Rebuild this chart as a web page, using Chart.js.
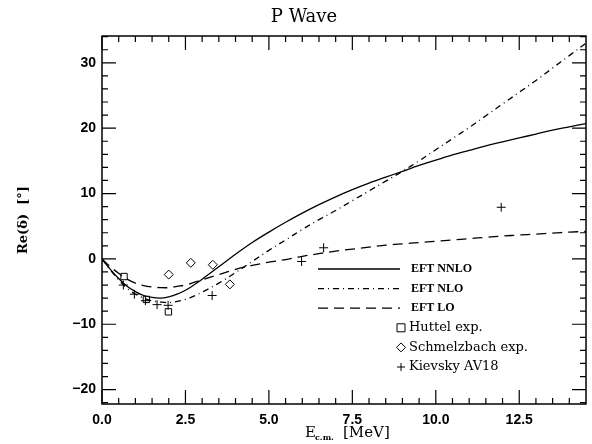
<!DOCTYPE html>
<html>
<head>
<meta charset="UTF-8">
<title>P Wave</title>
<script src="https://cdn.jsdelivr.net/npm/chart.js"></script>
<style>
  html, body { margin: 0; background: #fff; }
  #wrap { width: 592px; height: 444px; }
</style>
</head>
<body>
<div id="wrap"><canvas id="pwave"></canvas></div>
<script>
const curveE = [0, 0.25, 0.5, 0.75, 1, 1.25, 1.5, 1.75, 2, 2.25, 2.5, 2.75, 3, 3.5, 4, 4.5, 5, 5.5,
  6, 6.5, 7, 7.5, 8, 8.5, 9, 9.5, 10, 10.5, 11, 11.5, 12, 12.5, 13, 13.5, 14, 14.5];
const nnlo = [0, -1.6, -3.0, -4.2, -5.0, -5.6, -5.9, -6.0, -5.8, -5.4, -4.8, -4.0, -3.1, -1.2, 0.7, 2.5, 4.1, 5.6,
  7.0, 8.3, 9.5, 10.6, 11.6, 12.5, 13.4, 14.3, 15.1, 15.9, 16.6, 17.3, 17.9, 18.5, 19.1, 19.7, 20.2, 20.7];
const nlo = [0, -1.7, -3.2, -4.5, -5.4, -6.0, -6.4, -6.6, -6.7, -6.5, -6.2, -5.7, -5.1, -3.7, -2.1, -0.4, 1.3, 2.9,
  4.5, 6.0, 7.4, 8.9, 10.4, 11.9, 13.4, 15.0, 16.7, 18.4, 20.1, 21.9, 23.7, 25.5, 27.3, 29.2, 31.1, 33.0];
const lo = [0, -1.2, -2.2, -3.1, -3.7, -4.1, -4.3, -4.4, -4.4, -4.2, -4.0, -3.6, -3.2, -2.4, -1.6, -1.0, -0.5, -0.1,
  0.4, 0.8, 1.2, 1.5, 1.8, 2.1, 2.3, 2.5, 2.7, 2.9, 3.1, 3.3, 3.5, 3.65, 3.8, 3.95, 4.1, 4.2];

const huttelE = [0.66, 1.33, 1.99];
const huttelD = [-2.7, -6.2, -8.1];
const schmelzE = [2.0, 2.66, 3.32, 3.83];
const schmelzD = [-2.4, -0.6, -0.9, -3.9];
const kievskyE = [0.64, 0.97, 1.3, 1.65, 1.98, 3.3, 5.98, 6.64, 11.96];
const kievskyD = [-4.0, -5.4, -6.4, -7.0, -7.1, -5.6, -0.4, 1.7, 7.9];

// axes
const xMajor = [0, 2.5, 5, 7.5, 10, 12.5];
const xMinor = [0.5, 1, 1.5, 2, 3, 3.5, 4, 4.5, 5.5, 6, 6.5, 7, 8, 8.5, 9, 9.5, 10.5, 11, 11.5, 12, 13, 13.5, 14];
const yMajor = [-20, -10, 0, 10, 20, 30];
const yMinor = [-22, -18, -16, -14, -12, -8, -6, -4, -2, 2, 4, 6, 8, 12, 14, 16, 18, 22, 24, 26, 28, 32, 34];

const pts = (xs, ys) => xs.map((x, i) => ({ x: x, y: ys[i] }));

const legendRows = [
  { label: "EFT NNLO", kind: "line", dash: [] },
  { label: "EFT NLO", kind: "line", dash: [6, 4, 1, 4] },
  { label: "EFT LO", kind: "line", dash: [10, 6] },
  { label: "Huttel exp.", kind: "rect" },
  { label: "Schmelzbach exp.", kind: "rectRot" },
  { label: "Kievsky AV18", kind: "cross" }
];

function marker(ctx, kind, x, y) {
  ctx.beginPath();
  if (kind === "rect") {
    ctx.rect(x - 4, y - 4, 8, 8);
  } else if (kind === "rectRot") {
    ctx.moveTo(x, y - 4.5); ctx.lineTo(x + 4.5, y); ctx.lineTo(x, y + 4.5); ctx.lineTo(x - 4.5, y); ctx.closePath();
  } else {
    ctx.moveTo(x - 4, y); ctx.lineTo(x + 4, y); ctx.moveTo(x, y - 4); ctx.lineTo(x, y + 4);
  }
  ctx.stroke();
}

const framePlugin = {
  id: "frame",
  afterDraw(chart) {
    const ctx = chart.ctx;
    const { left, right, top, bottom } = chart.chartArea;
    const xs = chart.scales.x, ys = chart.scales.y;
    ctx.save();
    ctx.strokeStyle = "#000";
    ctx.lineWidth = 1.5;
    ctx.strokeRect(left, top, right - left, bottom - top);

    // inward ticks on every side
    ctx.lineWidth = 1.2;
    ctx.beginPath();
    const xt = (v, len) => {
      const p = xs.getPixelForValue(v);
      ctx.moveTo(p, bottom); ctx.lineTo(p, bottom - len);
      ctx.moveTo(p, top); ctx.lineTo(p, top + len);
    };
    const yt = (v, len) => {
      const p = ys.getPixelForValue(v);
      ctx.moveTo(left, p); ctx.lineTo(left + len, p);
      ctx.moveTo(right, p); ctx.lineTo(right - len, p);
    };
    xMajor.forEach(v => xt(v, 14));
    xMinor.forEach(v => xt(v, 6));
    yMajor.forEach(v => yt(v, 14));
    yMinor.forEach(v => yt(v, 6));
    ctx.stroke();

    // title
    ctx.fillStyle = "#000";
    ctx.textAlign = "center";
    ctx.textBaseline = "middle";
    ctx.font = "18px 'DejaVu Serif'";
    ctx.fillText("P Wave", 304, 17);

    // x axis title with subscript
    ctx.textAlign = "left";
    ctx.textBaseline = "alphabetic";
    ctx.font = "15px 'DejaVu Serif'";
    ctx.fillText("E", 305, 437);
    ctx.font = "bold 8px 'DejaVu Serif'";
    ctx.fillText("c.m.", 315, 440);
    ctx.font = "15px 'DejaVu Serif'";
    ctx.fillText("[MeV]", 343, 437);

    // y axis title
    ctx.save();
    ctx.translate(27, 220);
    ctx.rotate(-Math.PI / 2);
    ctx.textAlign = "center";
    ctx.font = "bold 13px 'DejaVu Serif'";
    ctx.fillText("Re(\u03B4)  [\u00B0]", 0, 0);
    ctx.restore();

    // legend
    legendRows.forEach((r, i) => {
      const y = 269 + i * 19.6;
      ctx.setLineDash(r.dash || []);
      ctx.lineWidth = r.kind === "line" ? 1.3 : 1;
      ctx.textBaseline = "middle";
      if (r.kind === "line") {
        ctx.beginPath(); ctx.moveTo(318, y); ctx.lineTo(400, y); ctx.stroke();
        ctx.setLineDash([]);
        ctx.font = "bold 12px 'Liberation Serif'";
        ctx.fillText(r.label, 411, y);
      } else {
        marker(ctx, r.kind, 401, y);
        ctx.font = "13px 'DejaVu Serif'";
        ctx.fillText(r.label, 409, y);
      }
    });
    ctx.restore();
  }
};

const lineDs = (data, dash) => ({
  data: data, showLine: true, borderColor: "#000", borderWidth: 1.3, borderDash: dash,
  pointRadius: 0, tension: 0.35, fill: false
});
const markDs = (data, style) => ({
  data: data, showLine: false, pointStyle: style, pointRadius: 4.5,
  borderColor: "#000", backgroundColor: "rgba(0,0,0,0)", pointBorderWidth: 1
});

new Chart(document.getElementById("pwave"), {
  type: "scatter",
  data: {
    datasets: [
      lineDs(pts(curveE, nnlo), []),
      lineDs(pts(curveE, nlo), [6, 4, 1, 4]),
      lineDs(pts(curveE, lo), [10, 6]),
      markDs(pts(huttelE, huttelD), "rect"),
      markDs(pts(schmelzE, schmelzD), "rectRot"),
      markDs(pts(kievskyE, kievskyD), "cross")
    ]
  },
  options: {
    responsive: true,
    maintainAspectRatio: false,
    animation: false,
    layout: { padding: { left: 0, right: 6, top: 36, bottom: 0 } },
    plugins: { legend: { display: false }, tooltip: { enabled: false }, title: { display: false } },
    scales: {
      x: {
        type: "linear", min: 0, max: 14.5,
        grid: { display: false, drawTicks: false }, border: { display: false },
        afterBuildTicks: s => { s.ticks = xMajor.map(v => ({ value: v })); },
        afterFit: s => { s.height = 40; },
        ticks: { padding: 8, color: "#000", maxRotation: 0, font: { family: "Liberation Sans", size: 14, weight: "bold" },
          callback: v => Number(v).toFixed(1) }
      },
      y: {
        type: "linear", min: -22.2, max: 34.1,
        grid: { display: false, drawTicks: false }, border: { display: false },
        afterBuildTicks: s => { s.ticks = yMajor.map(v => ({ value: v })); },
        afterFit: s => { s.width = 102; },
        ticks: { padding: 6, color: "#000", font: { family: "Liberation Sans", size: 14, weight: "bold" },
          callback: v => (v < 0 ? "\u2212" + Math.abs(v) : String(v)) }
      }
    }
  },
  plugins: [framePlugin]
});
</script>
</body>
</html>
